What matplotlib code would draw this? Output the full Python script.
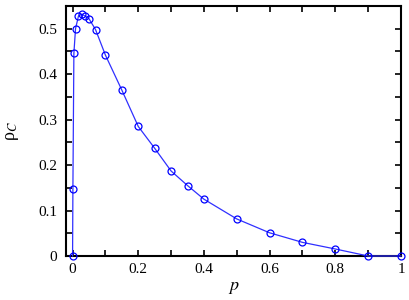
import matplotlib
matplotlib.use("Agg")
import matplotlib.pyplot as plt
from matplotlib.ticker import MultipleLocator

p_values = [0.0, 0.001, 0.004, 0.009, 0.018, 0.028, 0.038, 0.05, 0.07, 0.1, 0.15,
            0.2, 0.25, 0.3, 0.35, 0.4, 0.5, 0.6, 0.7, 0.8, 0.9, 1.0]
rho_c = [0.0, 0.148, 0.446, 0.5, 0.528, 0.532, 0.528, 0.522, 0.498, 0.442, 0.365,
         0.285, 0.237, 0.187, 0.155, 0.125, 0.0815, 0.051, 0.030, 0.0154, 0.0, 0.0]
x_ticks = [0, 0.2, 0.4, 0.6, 0.8, 1]
x_tick_labels = ["0", "0.2", "0.4", "0.6", "0.8", "1"]
y_ticks = [0, 0.1, 0.2, 0.3, 0.4, 0.5]
y_tick_labels = ["0", "0.1", "0.2", "0.3", "0.4", "0.5"]

plt.rcParams['font.family'] = ['Liberation Serif', 'DejaVu Serif']
plt.rcParams['mathtext.fontset'] = 'stix'

fig = plt.figure(figsize=(4.09, 3.0), dpi=100)
ax = fig.add_axes([66/409, 1-256/300, (401-66)/409, (256-6)/300])

ax.plot(p_values, rho_c, color='#3030ff', lw=0.9, marker='o', markersize=5,
        markerfacecolor='none', markeredgecolor='#0000ff', markeredgewidth=0.9,
        clip_on=False, zorder=3)

ax.set_xlim(-0.02, 1.0)
ax.set_ylim(0, 0.55)
ax.set_xticks(x_ticks)
ax.set_xticklabels(x_tick_labels)
ax.set_yticks(y_ticks)
ax.set_yticklabels(y_tick_labels)
ax.xaxis.set_minor_locator(MultipleLocator(0.1))
ax.yaxis.set_minor_locator(MultipleLocator(0.05))
ax.tick_params(which='both', direction='in', top=True, right=True, labelsize=11,
               width=1.2)
ax.tick_params(which='major', length=4.5)
ax.tick_params(axis='y', which='major', pad=6.5)
ax.tick_params(axis='x', which='major', pad=5)
ax.tick_params(which='minor', length=4.5)
for s in ax.spines.values():
    s.set_linewidth(1.5)

ax.set_xlabel('$p$', fontsize=13, labelpad=2)
ax.set_ylabel('ρ$_C$', fontsize=13, labelpad=12)

fig.savefig('out.png', dpi=100)
